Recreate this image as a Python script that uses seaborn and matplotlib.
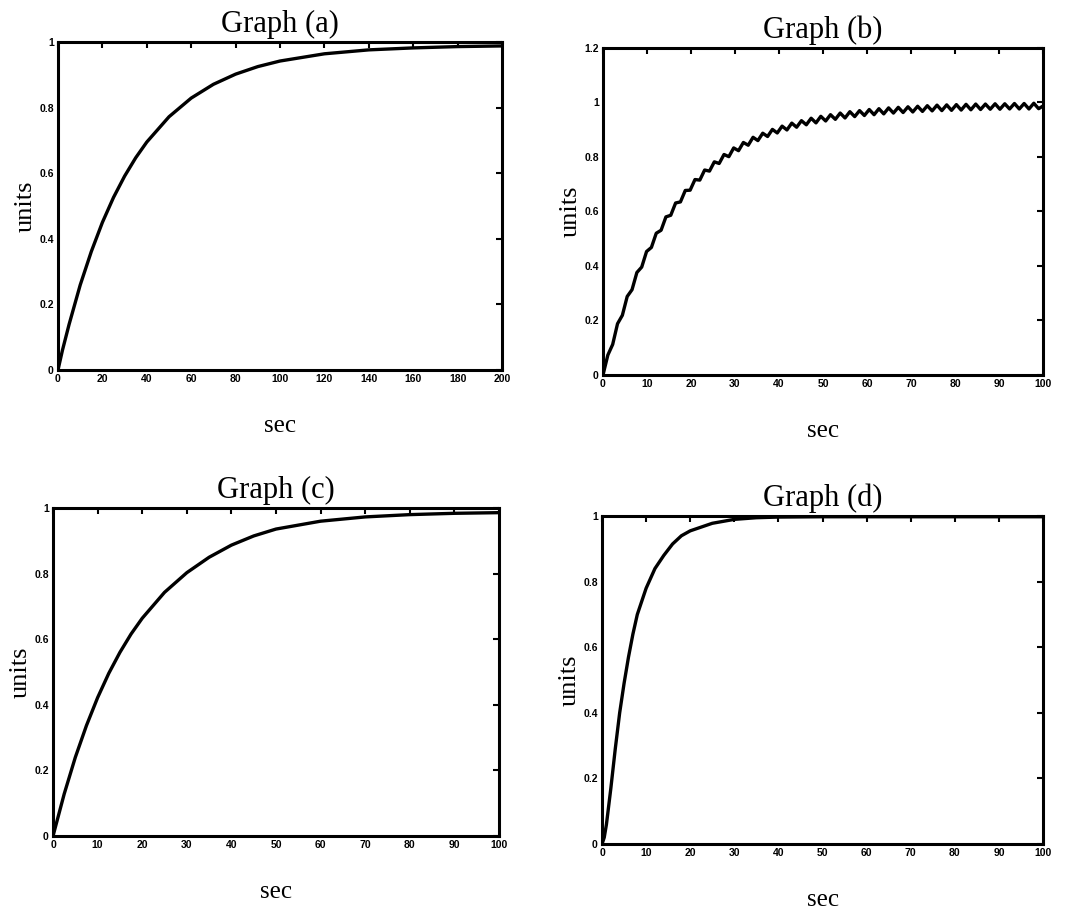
import matplotlib
matplotlib.use("Agg")
import matplotlib.pyplot as plt
import seaborn as sns
import pandas as pd

# Graph (a): slow first-order response, 0-200 s
t_a = [0, 2, 5, 10, 15, 20, 25, 30, 35, 40, 50, 60, 70, 80, 90, 100, 120, 140, 160, 180, 200]
y_a = [0.0, 0.06, 0.139, 0.259, 0.361, 0.450, 0.526, 0.591, 0.647, 0.695, 0.772, 0.829,
       0.871, 0.902, 0.925, 0.942, 0.964, 0.976, 0.982, 0.986, 0.988]

# Graph (b): response with ripple, 0-100 s (peaks / troughs)
t_b = [0.0, 1.1, 2.2, 3.3, 4.4, 5.5, 6.6, 7.7, 8.8, 9.9, 11.0, 12.1, 13.2, 14.3, 15.4,
       16.5, 17.6, 18.7, 19.8, 20.9, 22.0, 23.1, 24.2, 25.3, 26.4, 27.5, 28.6, 29.7,
       30.8, 31.9, 33.0, 34.1, 35.2, 36.3, 37.4, 38.5, 39.6, 40.7, 41.8, 42.9, 44.0,
       45.1, 46.2, 47.3, 48.4, 49.5, 50.6, 51.7, 52.8, 53.9, 55.0, 56.1, 57.2, 58.3,
       59.4, 60.5, 61.6, 62.7, 63.8, 64.9, 66.0, 67.1, 68.2, 69.3, 70.4, 71.5, 72.6,
       73.7, 74.8, 75.9, 77.0, 78.1, 79.2, 80.3, 81.4, 82.5, 83.6, 84.7, 85.8, 86.9,
       88.0, 89.1, 90.2, 91.3, 92.4, 93.5, 94.6, 95.7, 96.8, 97.9, 99.0, 100.0]
y_b = [0.0, 0.073, 0.112, 0.188, 0.219, 0.288, 0.313, 0.376, 0.396, 0.453, 0.468, 0.520,
       0.531, 0.580, 0.586, 0.631, 0.635, 0.677, 0.678, 0.717, 0.715, 0.752, 0.748,
       0.782, 0.776, 0.809, 0.801, 0.833, 0.823, 0.853, 0.843, 0.872, 0.860, 0.887,
       0.875, 0.901, 0.888, 0.913, 0.899, 0.924, 0.909, 0.933, 0.918, 0.942, 0.925,
       0.949, 0.932, 0.955, 0.938, 0.961, 0.943, 0.966, 0.948, 0.970, 0.952, 0.974,
       0.955, 0.977, 0.958, 0.980, 0.961, 0.982, 0.963, 0.984, 0.965, 0.986, 0.967,
       0.988, 0.969, 0.990, 0.970, 0.991, 0.971, 0.992, 0.972, 0.993, 0.973, 0.994,
       0.974, 0.994, 0.975, 0.995, 0.975, 0.995, 0.976, 0.996, 0.976, 0.996, 0.976,
       0.997, 0.977, 0.987]

# Graph (c)
t_c = [0, 2.5, 5, 7.5, 10, 12.5, 15, 17.5, 20, 25, 30, 35, 40, 45, 50, 60, 70, 80, 90, 100]
y_c = [0.0, 0.128, 0.240, 0.337, 0.422, 0.496, 0.560, 0.616, 0.664, 0.743, 0.803, 0.850,
       0.887, 0.915, 0.936, 0.960, 0.973, 0.980, 0.984, 0.986]

# Graph (d): fast response
t_d = [0, 0.5, 1, 2, 3, 4, 5, 6, 7, 8, 10, 12, 14, 16, 18, 20, 25, 30, 35, 40, 50, 100]
y_d = [0.0, 0.02, 0.06, 0.17, 0.29, 0.40, 0.49, 0.57, 0.64, 0.70, 0.78, 0.84, 0.88,
       0.915, 0.94, 0.955, 0.978, 0.99, 0.995, 0.997, 0.998, 0.998]

panels = [
    ("Graph (a)", t_a, y_a, 200, [0, 20, 40, 60, 80, 100, 120, 140, 160, 180, 200], 1.0,
     [0.0536, 0.5939, 0.4104, 0.3600]),
    ("Graph (b)", t_b, y_b, 100, list(range(0, 101, 10)), 1.2,
     [0.5573, 0.5884, 0.4067, 0.3590]),
    ("Graph (c)", t_c, y_c, 100, list(range(0, 101, 10)), 1.0,
     [0.0490, 0.0823, 0.4122, 0.3600]),
    ("Graph (d)", t_d, y_d, 100, list(range(0, 101, 10)), 1.0,
     [0.5564, 0.0735, 0.4076, 0.3600]),
]

sns.set_theme(style="white")
plt.rcParams["font.family"] = ["Liberation Serif", "DejaVu Serif"]
plt.rcParams["text.color"] = "black"
plt.rcParams["axes.labelcolor"] = "black"

fig = plt.figure(figsize=(10.82, 9.11), dpi=100)

for title, t, y, xmax, xticks, ymax, rect in panels:
    ax = fig.add_axes(rect)
    df = pd.DataFrame({"sec": t, "units": y})
    sns.lineplot(data=df, x="sec", y="units", ax=ax, color="black", linewidth=2.4,
                 estimator=None, sort=False)
    ax.set_xlim(0, xmax)
    ax.set_ylim(0, ymax)
    ax.set_xticks(xticks)
    ax.set_xticklabels([str(v) for v in xticks])
    yt = [0, 0.2, 0.4, 0.6, 0.8, 1.0] + ([1.2] if ymax > 1 else [])
    ax.set_yticks(yt)
    ax.set_yticklabels(["0", "0.2", "0.4", "0.6", "0.8", "1", "1.2"][:len(yt)])
    ax.tick_params(direction="in", length=4, width=1.5, top=True, right=True,
                   labelsize=7.5, pad=3, colors="black")
    for lab in ax.get_xticklabels() + ax.get_yticklabels():
        lab.set_fontfamily("Liberation Sans")
        lab.set_fontweight("heavy")
    for sp in ax.spines.values():
        sp.set_linewidth(2.2)
        sp.set_color("black")
    ax.set_title(title, fontsize=22, pad=7, color="black")
    ax.set_xlabel("sec", fontsize=18, labelpad=22)
    ax.set_ylabel("units", fontsize=19, labelpad=2)

fig.savefig("out.png", dpi=100, facecolor="white")
